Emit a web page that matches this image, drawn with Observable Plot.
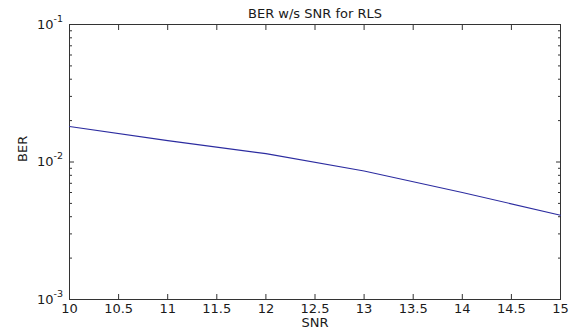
<!DOCTYPE html>
<html>
<head>
<meta charset="utf-8">
<script src="https://cdn.jsdelivr.net/npm/d3@7"></script>
<script src="https://cdn.jsdelivr.net/npm/@observablehq/plot@0.6"></script>
<style>
  html, body { margin: 0; padding: 0; background: #fff; }
  #chart svg { display: block; }
</style>
</head>
<body>
<div id="chart"></div>
<script>
// Bit error rate of the RLS equalizer against signal-to-noise ratio
const snr = [10, 11, 12, 13, 14, 15];
const ber = [0.0181, 0.0143, 0.0115, 0.0086, 0.0060, 0.0041];

// Axis ticks
const xTicks = [10, 10.5, 11, 11.5, 12, 12.5, 13, 13.5, 14, 14.5, 15];
const yMajor = [1e-3, 1e-2, 1e-1];
const yExponents = ["-3", "-2", "-1"];
const yMinor = [2, 3, 4, 5, 6, 7, 8, 9].flatMap(m => [m * 1e-3, m * 1e-2]);

const titleText = "BER w/s SNR for RLS";
const xLabel = "SNR";
const yLabel = "BER";

const data = snr.map((s, i) => ({snr: s, ber: ber[i]}));
const majors = yMajor.map((v, i) => ({v, e: yExponents[i]}));

const ink = "#1a1a1a";
const axisColor = "#333";
const font = "DejaVu Sans, sans-serif";
const blank = () => "";

const chart = Plot.plot({
  width: 570,
  height: 329,
  marginLeft: 69,
  marginRight: 10,
  marginTop: 24,
  marginBottom: 30,
  style: {background: "#fff", fontFamily: font, fontSize: "13px", color: ink, overflow: "visible"},
  x: {domain: [10, 15]},
  y: {type: "log", domain: [1e-3, 1e-1]},
  marks: [
    Plot.frame({stroke: axisColor, strokeWidth: 1}),
    // inward ticks on all four sides
    Plot.axisX(xTicks, {anchor: "bottom", tickSize: -5, tickPadding: 9, tickFormat: d => String(d), stroke: axisColor, fill: ink, fontSize: 13, label: null}),
    Plot.axisX(xTicks, {anchor: "top", tickSize: -5, tickFormat: blank, stroke: axisColor, label: null}),
    Plot.axisY(yMajor, {anchor: "left", tickSize: -5, tickFormat: blank, stroke: axisColor, label: null}),
    Plot.axisY(yMajor, {anchor: "right", tickSize: -5, tickFormat: blank, stroke: axisColor, label: null}),
    Plot.axisY(yMinor, {anchor: "left", tickSize: -3, tickFormat: blank, stroke: axisColor, label: null}),
    Plot.axisY(yMinor, {anchor: "right", tickSize: -3, tickFormat: blank, stroke: axisColor, label: null}),
    // decade labels with raised exponents
    Plot.text(majors, {y: "v", frameAnchor: "left", text: () => "10", textAnchor: "end", dx: -16, fill: ink, fontSize: 13}),
    Plot.text(majors, {y: "v", frameAnchor: "left", text: "e", textAnchor: "start", dx: -16, dy: -6, fill: ink, fontSize: 9.5}),
    // the BER curve
    Plot.line(data, {x: "snr", y: "ber", stroke: "#2c2ca0", strokeWidth: 1.1}),
    // title and axis names
    Plot.text([titleText], {frameAnchor: "top", dy: -7, lineAnchor: "bottom", fill: ink, fontSize: 13, style: {letterSpacing: "1px"}}),
    Plot.text([xLabel], {frameAnchor: "bottom", dy: 27, lineAnchor: "bottom", fill: ink, fontSize: 13, style: {letterSpacing: "0.5px"}}),
    Plot.text([yLabel], {frameAnchor: "left", dx: -47, rotate: -90, fill: ink, fontSize: 13, style: {letterSpacing: "0.5px"}})
  ]
});

document.getElementById("chart").appendChild(chart);
</script>
</body>
</html>
